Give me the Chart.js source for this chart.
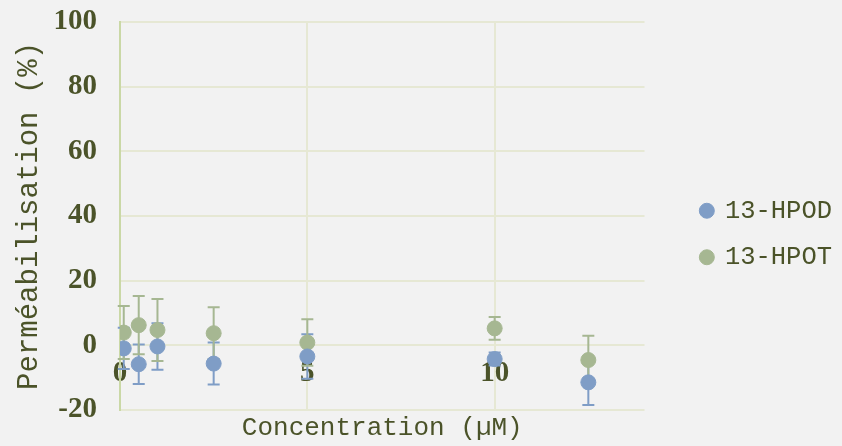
<!DOCTYPE html>
<html>
<head>
<meta charset="utf-8">
<script src="https://cdn.jsdelivr.net/npm/chart.js@4.4.1/dist/chart.umd.min.js"></script>
<style>
  html, body { margin: 0; padding: 0; background: #f2f2f2; }
  #wrap { width: 842px; height: 446px; }
</style>
</head>
<body>
<div id="wrap"><canvas id="myChart"></canvas></div>
<script>
// concentrations (µM)
const concentrations = [0.1, 0.5, 1, 2.5, 5, 10, 12.5];
// 13-HPOD
const hpodValues = [-1.0, -5.9, -0.4, -5.7, -3.5, -4.3, -11.5];
const hpodErrors = [6.4, 6.1, 7.2, 6.5, 6.9, 2.0, 7.0];
// 13-HPOT
const hpotValues = [3.9, 6.2, 4.7, 3.7, 0.8, 5.2, -4.6];
const hpotErrors = [8.2, 9.0, 9.6, 8.0, 7.2, 3.5, 7.5];

const textColor = '#4b5329';
const gridColor = '#e6e8d4';

function points(values) {
  return concentrations.map((c, i) => ({ x: c, y: values[i] }));
}

// barres d'erreur dessinées avec les échelles du graphique
const errorBars = {
  id: 'errorBars',
  beforeDatasetsDraw(chart) {
    const ctx = chart.ctx;
    const yScale = chart.scales.y;
    chart.data.datasets.forEach((ds, di) => {
      const meta = chart.getDatasetMeta(di);
      ctx.save();
      ctx.strokeStyle = ds.backgroundColor;
      ctx.lineWidth = 2;
      meta.data.forEach((pt, i) => {
        const v = ds.data[i].y;
        const e = ds.errors[i];
        const top = yScale.getPixelForValue(v + e);
        const bottom = yScale.getPixelForValue(v - e);
        const x = pt.x;
        ctx.beginPath();
        ctx.moveTo(x, top); ctx.lineTo(x, bottom);
        ctx.moveTo(x - 6, top); ctx.lineTo(x + 6, top);
        ctx.moveTo(x - 6, bottom); ctx.lineTo(x + 6, bottom);
        ctx.stroke();
      });
      ctx.restore();
    });
  }
};

const ctx = document.getElementById('myChart');

new Chart(ctx, {
  type: 'scatter',
  data: {
    datasets: [
      {
        label: '13-HPOD',
        data: points(hpodValues),
        errors: hpodErrors,
        backgroundColor: '#7f9dc6',
        borderColor: '#7f9dc6',
        pointRadius: 7.5,
        pointHoverRadius: 7.5
      },
      {
        label: '13-HPOT',
        data: points(hpotValues),
        errors: hpotErrors,
        backgroundColor: '#a6b792',
        borderColor: '#a6b792',
        pointRadius: 7.5,
        pointHoverRadius: 7.5
      }
    ]
  },
  plugins: [errorBars],
  options: {
    responsive: true,
    maintainAspectRatio: false,
    animation: false,
    layout: { padding: { top: 22, left: 0, right: 0, bottom: 0 } },
    plugins: {
      tooltip: { enabled: false },
      legend: {
        position: 'right',
        labels: {
          usePointStyle: true,
          pointStyle: 'circle',
          boxWidth: 10.6,
          boxHeight: 10.6,
          padding: 21,
          color: textColor,
          font: { family: 'Liberation Mono', size: 25.5 }
        }
      }
    },
    scales: {
      x: {
        type: 'linear',
        min: 0,
        max: 14,
        ticks: { display: false, stepSize: 5, includeBounds: false },
        grid: { color: gridColor, lineWidth: 2, drawTicks: false },
        border: { display: false },
        title: {
          display: true,
          text: 'Concentration (µM)',
          color: textColor,
          font: { family: 'Liberation Mono', size: 26 },
          padding: { top: 3, bottom: 2 }
        }
      },
      // étiquettes de l'axe X placées sur la ligne y = 0
      x2: {
        type: 'linear',
        position: { y: 0 },
        z: 1,
        min: 0,
        max: 14,
        ticks: {
          stepSize: 5,
          includeBounds: false,
          padding: 11,
          color: textColor,
          font: { family: 'Liberation Serif', size: 29, weight: 'bold' }
        },
        grid: { display: false, drawTicks: false },
        border: { display: false }
      },
      y: {
        min: -20,
        max: 100,
        ticks: {
          stepSize: 20,
          padding: 23,
          color: textColor,
          font: { family: 'Liberation Serif', size: 29, weight: 'bold' }
        },
        grid: { color: gridColor, lineWidth: 2, drawTicks: false },
        border: { color: '#cad8a6', width: 2 },
        title: {
          display: true,
          text: 'Perméabilisation (%)',
          color: textColor,
          font: { family: 'Liberation Mono', size: 29 },
          padding: { top: 12, bottom: 8 }
        },
        afterFit(scale) {
          // pas de marge supplémentaire en haut et en bas de la zone
          scale.paddingTop = 0;
          scale.paddingBottom = 0;
          scale.width = 120;
        }
      },
      // espace entre la zone du graphique et la légende
      yR: {
        position: 'right',
        display: false,
        afterFit(scale) { scale.width = 36; }
      }
    }
  }
});
</script>
</body>
</html>
